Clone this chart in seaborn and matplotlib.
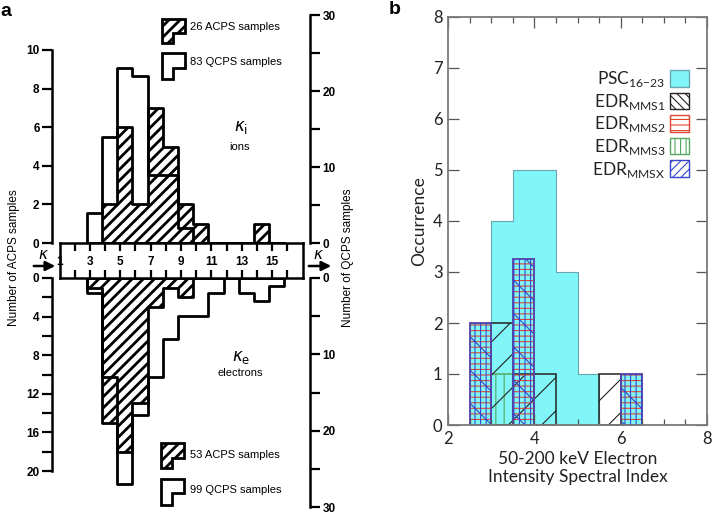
import numpy as np
import matplotlib
matplotlib.use("Agg")
import matplotlib.pyplot as plt
from matplotlib.patches import Patch, Polygon
import seaborn as sns

# panel a: kappa distributions, one bin per integer kappa (3 ... 15)
kappa = np.arange(3, 16)
acps_ions = [0, 2, 6, 2, 7, 5, 2, 1, 0, 0, 0, 1, 0]
qcps_ions = [4, 14, 23, 22, 9, 9, 2, 0, 0, 0, 0, 0, 0]
acps_electrons = [1, 15, 18, 13, 3, 1, 2, 0, 0, 0, 0, 0, 0]
qcps_electrons = [2, 13, 27, 18, 13, 8, 5, 5, 2, 0, 2, 3, 1]
kappa_labels = [1, 3, 5, 7, 9, 11, 13, 15]
legend_ions = ["26 ACPS samples", "83 QCPS samples"]
legend_electrons = ["53 ACPS samples", "99 QCPS samples"]

# panel b: spectral index histograms, 0.5 wide bins
index_edges = [2.5, 3.0, 3.5, 4.0, 4.5, 5.0, 5.5, 6.0, 6.5]
psc = [2, 4, 5, 5, 3, 1, 0, 1]
edr_mms1 = [0, 2, 1, 1, 0, 0, 1, 0]
edr_mms2 = [2, 0, 3.25, 0, 0, 0, 0, 1]
edr_mms3 = [0, 1, 0, 0, 0, 0, 0, 0]
edr_mmsx = [2, 0, 3.25, 0, 0, 0, 0, 1]
series_labels = [r"PSC$_{\mathregular{16{-}23}}$", r"EDR$_{\mathregular{MMS1}}$",
                 r"EDR$_{\mathregular{MMS2}}$", r"EDR$_{\mathregular{MMS3}}$",
                 r"EDR$_{\mathregular{MMSX}}$"]

plt.rcParams["font.family"] = ["Liberation Sans", "DejaVu Sans"]
plt.rcParams["hatch.linewidth"] = 2.0

W, H = 712, 515
fig = plt.figure(figsize=(W / 100, H / 100), dpi=100)


def box(x0, y0, x1, y1):
    # pixel box (top-left origin) -> figure fraction
    return [x0 / W, 1 - y1 / H, (x1 - x0) / W, (y1 - y0) / H]


K0, KPX = 59.5, 15.2  # pixel of kappa=1 and pixels per kappa unit
kx = lambda p: 1 + (p - K0) / KPX
bin_edges = list(np.append(kappa, kappa[-1] + 1) - 0.2)
centers = kappa + 0.3


def kappa_hist(ax, counts, **kw):
    sns.histplot(x=centers, weights=counts, bins=bin_edges, element="step",
                 fill=True, alpha=1, linewidth=2, ax=ax, **kw)
    ax.set_xlabel("")
    ax.set_ylabel("")
    for c in ax.collections:
        if hasattr(c, "set_hatch_linewidth"):
            c.set_hatch_linewidth(2.0)


def style_a(ax, side):
    ax.set_xlim(kx(52), kx(310))
    ax.xaxis.set_visible(False)
    for s in ["top", "bottom", "left", "right"]:
        ax.spines[s].set_visible(s == side)
    ax.spines[side].set_linewidth(1.8)
    ax.tick_params(axis="y", which="both", direction="out", length=7, width=1.6,
                   pad=2, left=(side == "left"), right=(side == "right"),
                   labelleft=(side == "left"), labelright=(side == "right"))


# ---- panel a, ions (top)
ax_up = fig.add_axes(box(52, 15, 310, 243))
ax_up_r = ax_up.twinx()
ax_up_r.set_zorder(0)
ax_up.set_zorder(1)
ax_up.patch.set_visible(False)
kappa_hist(ax_up_r, qcps_ions, color="white", edgecolor="black")
kappa_hist(ax_up, acps_ions, color="black", facecolor="none", edgecolor="black", hatch="///")
ax_up.set_ylim(0, 228 / 19.3)
ax_up_r.set_ylim(0, 30)
style_a(ax_up, "left")
style_a(ax_up_r, "right")
ax_up.spines["left"].set_bounds(0, 10)
ax_up_r.spines["right"].set_bounds(0, 30)
ax_up.set_yticks(range(0, 11, 2), [str(v) for v in range(0, 11, 2)],
                 fontweight="bold", fontsize=8.5)
ax_up_r.set_yticks(range(0, 31, 10), [str(v) for v in range(0, 31, 10)],
                   fontweight="bold", fontsize=8.5)
ax_up_r.set_yticks(range(5, 30, 10), minor=True)

# ---- panel a, electrons (bottom, hanging down)
ax_lo = fig.add_axes(box(52, 278, 310, 507))
ax_lo_r = ax_lo.twinx()
ax_lo_r.set_zorder(0)
ax_lo.set_zorder(1)
ax_lo.patch.set_visible(False)
kappa_hist(ax_lo_r, qcps_electrons, color="white", edgecolor="black")
kappa_hist(ax_lo, acps_electrons, color="black", facecolor="none", edgecolor="black", hatch="///")
ax_lo.set_ylim(229 / 9.65, 0)
ax_lo_r.set_ylim(30, 0)
style_a(ax_lo, "left")
style_a(ax_lo_r, "right")
ax_lo.spines["left"].set_bounds(0, 20)
ax_lo_r.spines["right"].set_bounds(0, 30)
ax_lo.set_yticks(range(0, 21, 4), [str(v) for v in range(0, 21, 4)],
                 fontweight="bold", fontsize=8.5)
ax_lo.set_yticks(range(2, 20, 4), minor=True)
ax_lo_r.set_yticks(range(0, 31, 10), [str(v) for v in range(0, 31, 10)],
                   fontweight="bold", fontsize=8.5)
ax_lo_r.set_yticks(range(5, 30, 10), minor=True)

# ---- kappa ruler between the two halves
ax_k = fig.add_axes(box(K0, 243, K0 + 16 * KPX, 278))
ax_k.set_xlim(1, 17)
ax_k.set_ylim(0, 1)
ax_k.set_yticks([])
ax_k.set_xticks(range(2, 17), [""] * 15)
ax_k.tick_params(axis="x", direction="in", top=True, bottom=True, length=6, width=1.6)
for s in ax_k.spines.values():
    s.set_linewidth(1.8)
for k in kappa_labels:
    ax_k.text(k, 0.45, str(k), ha="center", va="center", fontsize=8.5, fontweight="bold")

# ---- overlay for free text, arrows and the L-shaped legend keys
ov = fig.add_axes([0, 0, 1, 1])
ov.set_xlim(0, W)
ov.set_ylim(H, 0)
ov.axis("off")
ov.set_zorder(5)


def key(x0, y0, y1, ym, hatched):
    pts = [(x0, y0), (x0 + 23, y0), (x0 + 23, ym), (x0 + 11, ym), (x0 + 11, y1), (x0, y1)]
    p = Polygon(pts, closed=True, facecolor="white", edgecolor="black",
                linewidth=2, hatch="///" if hatched else None)
    ov.add_patch(p)


key(162, 19, 43, 33, True)
key(162, 53, 79, 68, False)
key(161, 443, 468, 458, True)
key(161, 479, 505, 493, False)
for (y, t) in [(27, legend_ions[0]), (62, legend_ions[1]),
               (455, legend_electrons[0]), (490, legend_electrons[1])]:
    ov.text(190, y, t, fontsize=8, va="center", ha="left")

ov.text(241, 128, r"$\kappa_\mathrm{i}$", fontsize=12, ha="center", va="center")
ov.text(240, 147, "ions", fontsize=8, ha="center", va="center")
ov.text(241, 358, r"$\kappa_\mathrm{e}$", fontsize=12, ha="center", va="center")
ov.text(240, 373, "electrons", fontsize=8, ha="center", va="center")
for x0, x1, xk in [(31, 58, 43), (306, 334, 318)]:
    ov.annotate("", xy=(x1, 266), xytext=(x0, 266),
                arrowprops=dict(arrowstyle="-|>", lw=1.8, color="black", mutation_scale=14))
    ov.text(xk, 255, r"$\kappa$", fontsize=11, ha="center", va="center")
ov.text(14, 258, "Number of ACPS samples", rotation=90, fontsize=8.5, ha="center", va="center")
ov.text(348, 258, "Number of QCPS samples", rotation=90, fontsize=8.5, ha="center", va="center")
ov.text(6, 12, "a", fontsize=14, fontweight="bold", ha="center", va="center")
ov.text(395, 10, "b", fontsize=14, fontweight="bold", ha="center", va="center")

# ---- panel b
plt.rcParams["hatch.linewidth"] = 0.8
ax_b = fig.add_axes(box(448, 17, 707, 425))
b_centers = np.array(index_edges[:-1]) + 0.25
cyan = "#80f6f8"
sns.histplot(x=b_centers, weights=psc, bins=index_edges, element="step", fill=True,
             alpha=1, color=cyan, edgecolor="#6aa6b0", linewidth=0.8, ax=ax_b)
bar_styles = [(edr_mms3, "#55a860", "||"), (edr_mms1, "#222222", "/"),
              (edr_mms2, "#e2452f", "---"), (edr_mmsx, "#3748c8", "|||\\")]
for counts, col, hatch in bar_styles:
    sns.histplot(x=b_centers, weights=counts, bins=index_edges, element="bars",
                 fill=True, color=col, facecolor="none", edgecolor=col, hatch=hatch,
                 linewidth=1.1, ax=ax_b)
for p in ax_b.patches:
    if p.get_height() == 0:
        p.set_visible(False)
    if hasattr(p, "set_hatch_linewidth"):
        p.set_hatch_linewidth(0.8)

ax_b.set_xlim(2, 8)
ax_b.set_ylim(0, 8)
ax_b.set_xticks([2, 4, 6, 8], ["2", "4", "6", "8"], fontfamily="Lato", fontsize=12)
ax_b.set_xticks(np.arange(2.5, 8, 0.5), minor=True)
ax_b.set_yticks(range(0, 9), [str(v) for v in range(0, 9)], fontfamily="Lato", fontsize=12)
ax_b.tick_params(which="both", direction="in", top=True, right=True,
                 color="#555555", labelcolor="#222222", width=0.9)
ax_b.tick_params(which="major", length=8, pad=4)
ax_b.tick_params(which="minor", length=4)
for s in ax_b.spines.values():
    s.set_color("#7a7a7a")
    s.set_linewidth(1.3)
ax_b.set_xlabel("50-200 keV Electron\nIntensity Spectral Index", fontfamily="Lato",
                fontsize=12.5, color="#222222", labelpad=3)
ax_b.set_ylabel("Occurrence", fontfamily="Lato", fontsize=12.5, color="#222222", labelpad=4)

handles = [Patch(facecolor=cyan, edgecolor="#6aa6b0"),
           Patch(facecolor="white", edgecolor="#222222", hatch="\\\\\\\\"),
           Patch(facecolor="white", edgecolor="#e2452f", hatch="---"),
           Patch(facecolor="white", edgecolor="#55a860", hatch="|||"),
           Patch(facecolor="white", edgecolor="#3748c8", hatch="////")]
leg = ax_b.legend(handles, series_labels, loc="upper right", bbox_to_anchor=(0.931, 0.872),
                  frameon=False, markerfirst=False, prop={"family": "Lato", "size": 12.5},
                  handlelength=1.1, handleheight=1.1, labelspacing=0.15, handletextpad=0.25,
                  borderpad=0, borderaxespad=0)
for t in leg.get_texts():
    t.set_color("#222222")

fig.savefig("out.png", dpi=100)
